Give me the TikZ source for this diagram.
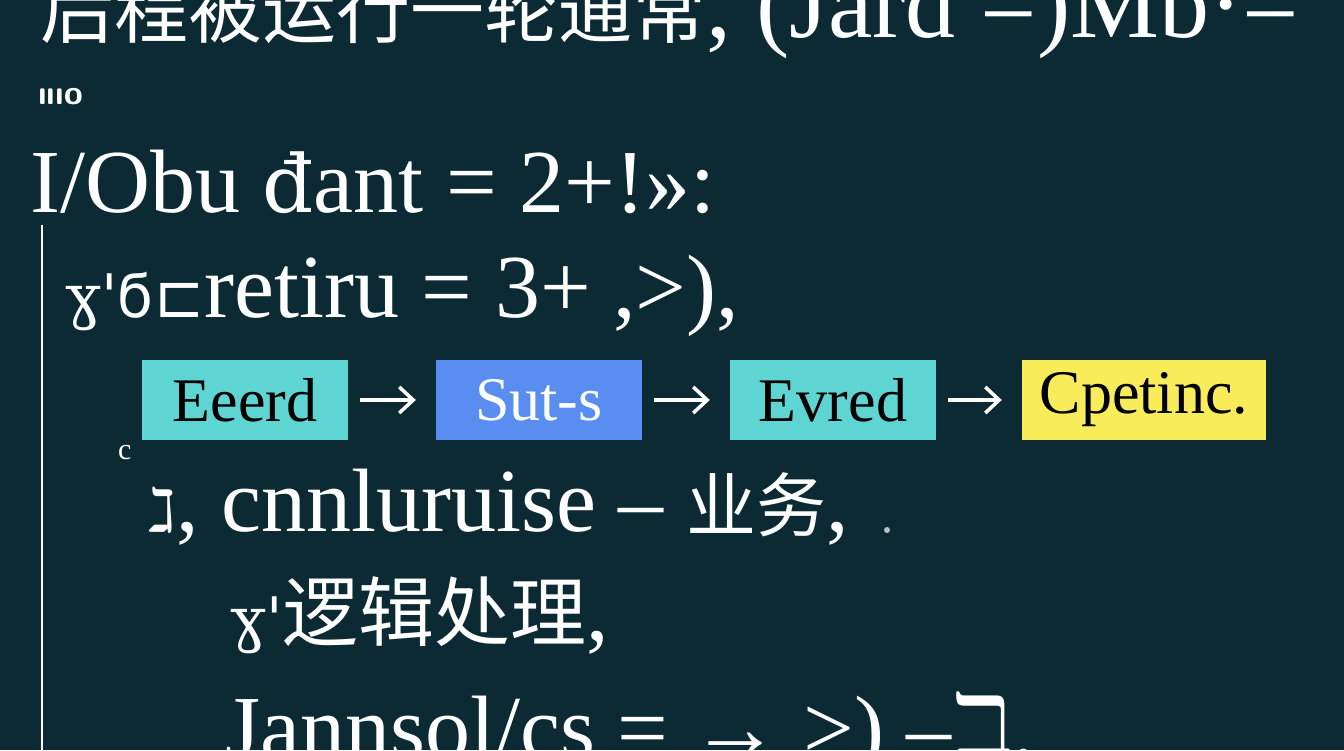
\documentclass[tikz,border=0pt]{standalone}
\usepackage{fontspec}
\setmainfont{Liberation Serif}
\newfontfamily\cjk{Noto Sans CJK SC}
\newfontfamily\odd{DejaVu Serif}
\newfontfamily\oddsans{DejaVu Sans}
\usetikzlibrary{arrows.meta}
\definecolor{bgc}{HTML}{0C2A33}
\definecolor{tealbox}{HTML}{5ED5D2}
\definecolor{bluebox}{HTML}{5A8DF0}
\definecolor{yelbox}{HTML}{F9EC5B}
\tikzset{
  txt/.style={anchor=base west, inner sep=0pt, text=white, font=\fontsize{90}{100}\selectfont},
  boxn/.style={minimum width=206pt, minimum height=80pt, inner sep=0pt, font=\fontsize{62}{66}\selectfont},
  flow/.style={draw=white, line width=3.5pt, -{Straight Barb[length=14pt,width=26pt,line width=3.5pt]}, shorten <=12pt, shorten >=20pt}
}
\begin{document}
\begin{tikzpicture}[x=1pt,y=1pt]
\useasboundingbox (0,0) rectangle (1344,750);
\fill[bgc] (0,0) rectangle (1344,750);
% line 1
\node[txt, font=\fontsize{100}{110}\selectfont] (l1) at (40,712) {{\cjk\fontsize{74}{80}\selectfont 后程被运行一轮通常}, (Jard =)Mb·=};
\node[txt, font=\fontsize{34}{40}\selectfont\bfseries\sffamily] (l2) at (38,645) {ıııo};
% line 3
\node[txt] (l3) at (30,537) {I/Obu {\odd\fontsize{80}{90}\selectfont đ}ant = 2+!»:};
% vertical rule
\coordinate (vt) at (42,525);
\coordinate (vb) at (42,0);
\draw[white, line width=2.5pt] (vt) -- (vb);
% line 4
\node[txt] (l4) at (65,432) {{\odd\fontsize{60}{70}\selectfont ɣ'}{\oddsans\fontsize{60}{70}\selectfont ϭ⊏}retiru = 3+ ,>),};
% boxes
\node[boxn, fill=tealbox] (b1) at (245,350) {Eeerd};
\node[boxn, fill=bluebox, text=white] (b2) at (539,350) {Sut-s};
\node[boxn, fill=tealbox] (b3) at (833,350) {Evred};
\node[boxn, fill=yelbox, minimum width=244pt] (b4) at (1144,350) {Cpetinc.};
\draw[flow] (b1) -- (b2);
\draw[flow] (b2) -- (b3);
\draw[flow] (b3) -- (b4);
\node[txt, font=\fontsize{30}{30}\selectfont] (m1) at (118,290) {c};
% line 6
\node[txt] (l6) at (148,218) {{\oddsans\fontsize{60}{70}\selectfont ℷ}, cnnluruise – {\cjk\fontsize{70}{74}\selectfont 业务},};
\fill[white!70!bgc] (887,220) circle (3pt);
% line 7
\node[txt] (l7) at (230,110) {{\odd\fontsize{60}{70}\selectfont ɣ'}{\cjk\fontsize{76}{80}\selectfont 逻辑处理},};
% line 8
\node[txt] (l8) at (225,-8) {Jannsol/cs = → >) –{\oddsans ℶ}.};
\end{tikzpicture}
\end{document}
